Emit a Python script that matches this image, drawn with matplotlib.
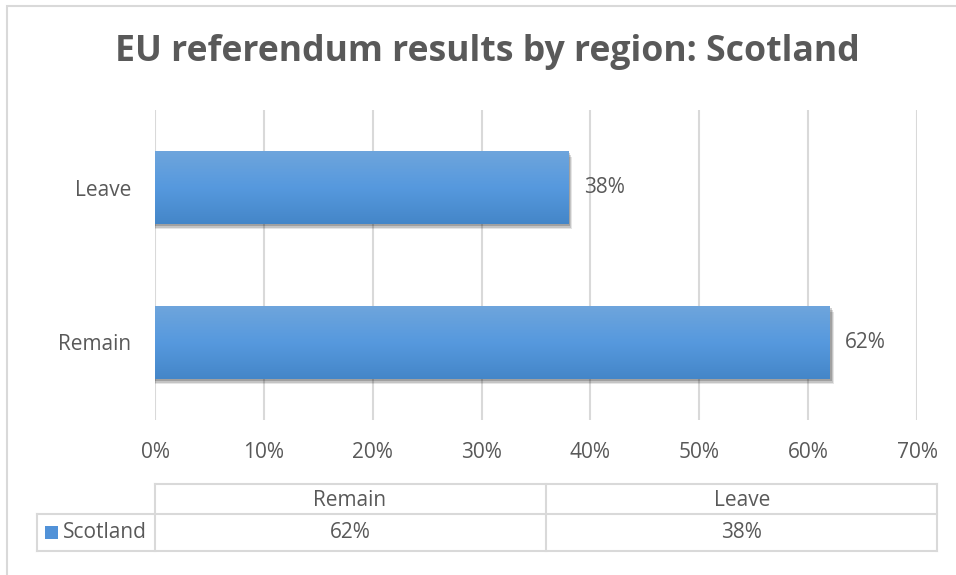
import matplotlib
matplotlib.use("Agg")
import matplotlib.pyplot as plt
import numpy as np
from matplotlib.patches import Rectangle
from matplotlib.lines import Line2D
from matplotlib.colors import LinearSegmentedColormap

title = "EU referendum results by region: Scotland"
categories = ["Remain", "Leave"]
series_name = "Scotland"
values = [62, 38]
xticks = [0, 10, 20, 30, 40, 50, 60, 70]

plt.rcParams['font.family'] = ['Open Sans', 'DejaVu Sans']
TXT = "#595959"
GRID = "#d9d9d9"

W, H = 956, 575
fig = plt.figure(figsize=(W / 100, H / 100), dpi=100)

def fx(px):
    return px / W

def fy(py):
    return 1 - py / H

# chart border
fig.add_artist(Rectangle((fx(7), fy(600)), fx(960) - fx(7), fy(6) - fy(600),
                         transform=fig.transFigure, fill=False, edgecolor=GRID, lw=1.5))

fig.text(fx(487), fy(52), title, ha="center", va="center", fontsize=25.7,
         fontweight="bold", color=TXT)

ax = fig.add_axes([fx(155), fy(420), fx(917) - fx(155), fy(110) - fy(420)])
ax.set_xlim(0, 70)
ax.set_ylim(-0.5, 1.5)
ax.set_xticks(xticks)
ax.set_xticklabels([f"{t}%" for t in xticks])
ax.set_yticks(range(len(categories)))
ax.set_yticklabels(categories)
ax.tick_params(axis="both", length=0, labelsize=15, colors=TXT)
ax.tick_params(axis="x", pad=16)
ax.tick_params(axis="y", pad=17)
for s in ax.spines.values():
    s.set_visible(False)
ax.grid(axis="x", color=GRID, lw=1.5)
ax.set_axisbelow(True)

cmap = LinearSegmentedColormap.from_list("g", ["#4486c8", "#5699de", "#6ea5dc"])
grad = np.linspace(0, 1, 256).reshape(-1, 1)
bh = 0.47
bars = ax.barh(range(len(categories)), values, height=bh, color="#5699de", zorder=3)
for b, v in zip(bars, values):
    x0, y0 = b.get_x(), b.get_y()
    w, h = b.get_width(), b.get_height()
    # shadow
    for k, a in [(0.35, 0.10), (0.25, 0.14), (0.15, 0.18)]:
        ax.add_patch(Rectangle((x0, y0 - 0.035 * k / 0.35), w + k, h,
                               color="black", alpha=a, lw=0, zorder=2))
    im = ax.imshow(grad, extent=(x0, x0 + w, y0, y0 + h), aspect="auto",
                   cmap=cmap, origin="lower", zorder=4)
    im.set_clip_path(b)
    ax.text(x0 + w + 1.4, y0 + h / 2, f"{v}%", ha="left", va="center",
            fontsize=15, color=TXT, zorder=5)

# data table
def hline(x0, x1, y):
    fig.add_artist(Line2D([fx(x0), fx(x1)], [fy(y), fy(y)], transform=fig.transFigure,
                          color=GRID, lw=1.5))

def vline(x, y0, y1):
    fig.add_artist(Line2D([fx(x), fx(x)], [fy(y0), fy(y1)], transform=fig.transFigure,
                          color=GRID, lw=1.5))

hline(155, 937, 484)
hline(37, 937, 514)
hline(37, 937, 551)
vline(37, 514, 551)
vline(155, 484, 551)
vline(546, 484, 551)
vline(937, 484, 551)

col_centers = [350, 742]
for c, cat, v in zip(col_centers, categories, values):
    fig.text(fx(c), fy(500), cat, ha="center", va="center", fontsize=15, color=TXT)
    fig.text(fx(c), fy(533), f"{v}%", ha="center", va="center", fontsize=15, color=TXT)

fig.add_artist(Rectangle((fx(45), fy(539)), fx(58) - fx(45), fy(526) - fy(539),
                         transform=fig.transFigure, color="#5192d8", lw=0))
fig.text(fx(63), fy(532), series_name, ha="left", va="center", fontsize=15, color=TXT)

fig.savefig("out.png", dpi=100, facecolor="white")
